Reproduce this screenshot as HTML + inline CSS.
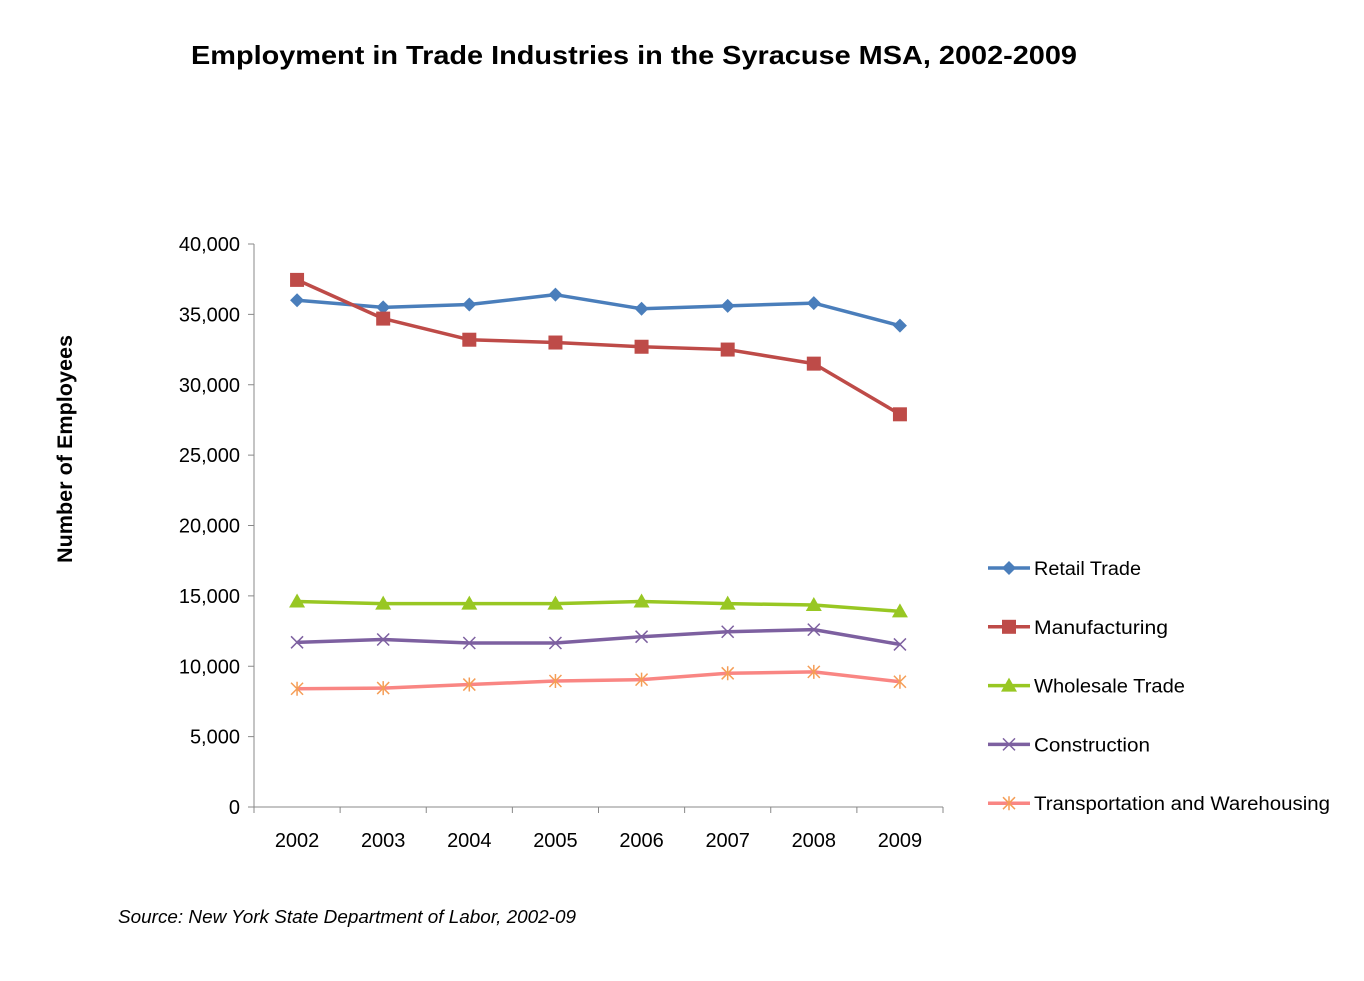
<!DOCTYPE html>
<html><head><meta charset="utf-8"><style>
body{margin:0;background:#fff;}
svg text{font-family:"Liberation Sans",sans-serif;}
</style></head><body>
<svg id="chart" width="1364" height="976">
<text x="634" y="64" text-anchor="middle" font-size="26" font-weight="bold" textLength="886" lengthAdjust="spacingAndGlyphs">Employment in Trade Industries in the Syracuse MSA, 2002-2009</text>
<text transform="translate(72,449) rotate(-90)" text-anchor="middle" font-size="21" font-weight="bold" textLength="228" lengthAdjust="spacingAndGlyphs">Number of Employees</text>
<text x="118" y="923" font-size="18" font-style="italic" textLength="458" lengthAdjust="spacingAndGlyphs">Source: New York State Department of Labor, 2002-09</text>
<g id="axes"></g><g id="series"></g><g id="legend"></g>
</svg>
<script>
const categories=["2002","2003","2004","2005","2006","2007","2008","2009"];
const yTicks=[0,5000,10000,15000,20000,25000,30000,35000,40000];
const retail=[36000,35500,35700,36400,35400,35600,35800,34200];
const manufacturing=[37450,34700,33200,33000,32700,32500,31500,27900];
const wholesale=[14600,14450,14450,14450,14600,14450,14350,13900];
const construction=[11700,11900,11650,11650,12100,12450,12600,11550];
const transport=[8400,8450,8700,8950,9050,9500,9600,8900];
const seriesNames=["Retail Trade","Manufacturing","Wholesale Trade","Construction","Transportation and Warehousing"];
const ns="http://www.w3.org/2000/svg";
const L=254,R=943,T=244,B=807,MAX=40000;
const step=(R-L)/categories.length;
const xs=i=>L+step*(i+0.5);
const ys=v=>B-(v/MAX)*(B-T);
function mk(tag,attrs,parent){const e=document.createElementNS(ns,tag);for(const k in attrs)e.setAttribute(k,attrs[k]);parent.appendChild(e);return e;}
const ax=document.getElementById('axes');
let a=mk('line',{x1:L,y1:T,x2:L,y2:B,stroke:'#888'},ax);


a=mk('line',{x1:L,y1:B,x2:R,y2:B,stroke:'#888'},ax);


yTicks.forEach(v=>{
 mk('line',{x1:L-6,y1:ys(v),x2:L,y2:ys(v),stroke:'#888'},ax);
 const t=mk('text',{x:L-14,y:ys(v)+7,'text-anchor':'end','font-size':20},ax);t.textContent=v.toLocaleString('en-US');
 
 
});
for(let i=0;i<=categories.length;i++)mk('line',{x1:L+step*i,y1:B,x2:L+step*i,y2:B+6,stroke:'#888'},ax);
categories.forEach((c,i)=>{const t=mk('text',{x:xs(i),y:B+40,'text-anchor':'middle','font-size':20},ax);t.textContent=c;
 
 });
const colors=["#4a7ebb","#be4b48","#98c723","#7d60a0","#f98683"];
const mcol=["#4a7ebb","#be4b48","#98c723","#7d60a0","#f59d56"];
const shapes=["diamond","square","triangle","x","star"];
const datas=[retail,manufacturing,wholesale,construction,transport];
function marker(g,s,x,y,c){
 if(s==="diamond")mk('polygon',{points:`${x},${y-7} ${x+7},${y} ${x},${y+7} ${x-7},${y}`,fill:c},g);
 else if(s==="square")mk('rect',{x:x-7,y:y-7,width:14,height:14,fill:c},g);
 else if(s==="triangle")mk('polygon',{points:`${x},${y-8} ${x+8},${y+6} ${x-8},${y+6}`,fill:c},g);
 else if(s==="x"){mk('path',{d:`M${x-6} ${y-6}L${x+6} ${y+6}M${x-6} ${y+6}L${x+6} ${y-6}`,stroke:c,'stroke-width':1.5},g);}
 else {mk('path',{d:`M${x-6} ${y-6}L${x+6} ${y+6}M${x-6} ${y+6}L${x+6} ${y-6}M${x} ${y-7}L${x} ${y+7}`,stroke:c,'stroke-width':1.5},g);}
}
const sg=document.getElementById('series');
datas.forEach((d,k)=>{
 const g=mk('g',{},sg);
 
 
 mk('polyline',{points:d.map((v,i)=>xs(i)+','+ys(v)).join(' '),fill:'none',stroke:colors[k],'stroke-width':3.5,'stroke-linejoin':'round'},g);
 d.forEach((v,i)=>marker(g,shapes[k],xs(i),ys(v),mcol[k]));
});
const lg=document.getElementById('legend');
const legW=[107,134,151,116,296];
seriesNames.forEach((n,k)=>{
 const y=568+k*58.8;
 const g=mk('g',{},lg);
 
 
 mk('line',{x1:988,y1:y,x2:1030,y2:y,stroke:colors[k],'stroke-width':3.5},g);
 marker(g,shapes[k],1009,y,mcol[k]);
 const t=mk('text',{x:1034,y:y+7,'font-size':19,textLength:legW[k],lengthAdjust:'spacingAndGlyphs'},g);t.textContent=n;
});
</script>
</body></html>
